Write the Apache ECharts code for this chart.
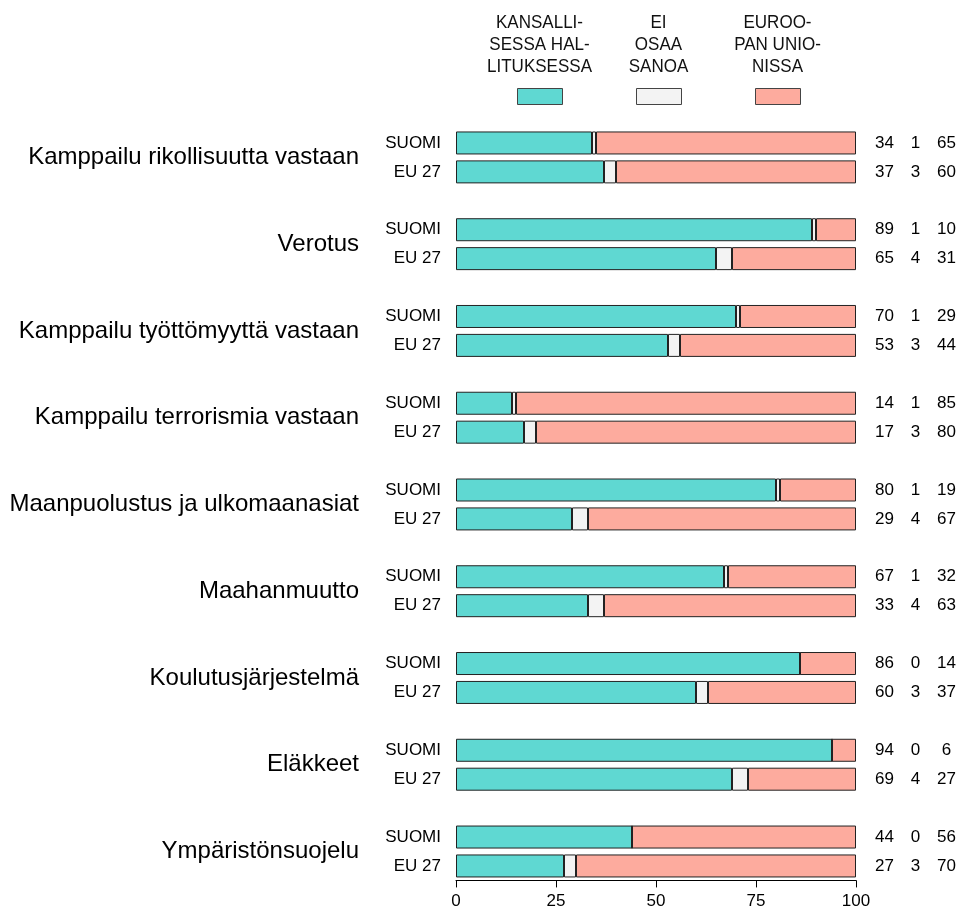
<!DOCTYPE html>
<html>
<head>
<meta charset="utf-8">
<script src="https://cdn.jsdelivr.net/npm/echarts@6/dist/echarts.min.js"></script>
<style>html,body{margin:0;padding:0;background:#fff}#c{width:964px;height:911px}</style>
</head>
<body>
<div id="c"></div>
<script>
// ---- data ----
const topics = [
  'Kamppailu rikollisuutta vastaan',
  'Verotus',
  'Kamppailu työttömyyttä vastaan',
  'Kamppailu terrorismia vastaan',
  'Maanpuolustus ja ulkomaanasiat',
  'Maahanmuutto',
  'Koulutusjärjestelmä',
  'Eläkkeet',
  'Ympäristönsuojelu'
];
const rowLabels = ['SUOMI', 'EU 27'];
const seriesNames = ['KANSALLISESSA HALLITUKSESSA', 'EI OSAA SANOA', 'EUROOPAN UNIONISSA'];
const legendLines = [
  ['KANSALLI-', 'SESSA HAL-', 'LITUKSESSA'],
  ['EI', 'OSAA', 'SANOA'],
  ['EUROO-', 'PAN UNIO-', 'NISSA']
];
const fiKansallinen = [34, 89, 70, 14, 80, 67, 86, 94, 44];
const fiEiOsaa      = [1, 1, 1, 1, 1, 1, 0, 0, 0];
const fiEU          = [65, 10, 29, 85, 19, 32, 14, 6, 56];
const euKansallinen = [37, 65, 53, 17, 29, 33, 60, 69, 27];
const euEiOsaa      = [3, 4, 3, 3, 4, 4, 3, 4, 3];
const euEU          = [60, 31, 44, 80, 67, 63, 37, 27, 70];
const xMin = 0, xMax = 100, xInterval = 25;

// ---- build slots (SUOMI, EU 27, gap) ----
const slotIds = [], slotLabels = [], s1 = [], s2 = [], s3 = [];
topics.forEach((t, i) => {
  slotIds.push('fi' + i); slotLabels.push(rowLabels[0]);
  s1.push(fiKansallinen[i]); s2.push(fiEiOsaa[i]); s3.push(fiEU[i]);
  slotIds.push('eu' + i); slotLabels.push(rowLabels[1]);
  s1.push(euKansallinen[i]); s2.push(euEiOsaa[i]); s3.push(euEU[i]);
  if (i < topics.length - 1) {
    slotIds.push('gap' + i); slotLabels.push('');
    s1.push('-'); s2.push('-'); s3.push('-');
  }
});

const FONT = 'Liberation Sans, Arial, sans-serif';
const colors = ['#5fd8d2', '#f3f3f3', '#fdab9e'];
const borderColor = '#222';

const chart = echarts.init(document.getElementById('c'), null, {renderer: 'canvas'});

const slotH = 28.92;
const gridTop = 128.5;
const gridH = slotH * slotIds.length;

const legendX = [517, 636, 755];
const legendCenters = legendX.map(x => x + 22.5);

const graphics = [];
legendLines.forEach((lines, k) => {
  graphics.push({
    type: 'text',
    x: legendCenters[k],
    y: 45,
    scaleX: 0.92,
    silent: true,
    style: {
      text: lines.join('\n'),
      font: '18.5px ' + FONT,
      fill: '#111',
      textAlign: 'center',
      textVerticalAlign: 'middle',
      lineHeight: 21.7
    }
  });
});

const firstCenter = gridTop + slotH / 2;
const groupCenter0 = firstCenter + slotH / 2;

const option = {
  animation: false,
  backgroundColor: '#fff',
  textStyle: {fontFamily: FONT},
  legend: seriesNames.map((n, k) => ({
    data: [n],
    left: legendX[k],
    top: 88,
    itemWidth: 45,
    itemHeight: 16,
    icon: 'rect',
    selectedMode: false,
    formatter: () => '',
    textStyle: {fontSize: 1},
    padding: 0,
    itemStyle: {borderColor: '#444', borderWidth: 1}
  })),
  graphic: graphics,
  grid: [
    {left: 456, width: 400, top: gridTop, height: gridH},
    {left: 456, width: 400, top: groupCenter0 - slotH * 1.5, height: slotH * 3 * topics.length}
  ],
  xAxis: [
    {
      gridIndex: 0, type: 'value', min: xMin, max: xMax, interval: xInterval,
      axisLine: {show: true, lineStyle: {color: '#000', width: 1}},
      axisTick: {show: true, length: 7, lineStyle: {color: '#000'}},
      axisLabel: {fontSize: 17, color: '#000', margin: 12, fontFamily: FONT},
      splitLine: {show: false}
    },
    {gridIndex: 1, type: 'value', min: 0, max: 1, show: false}
  ],
  yAxis: [
    {
      gridIndex: 0, type: 'category', data: slotIds, inverse: true,
      axisLine: {show: false}, axisTick: {show: false},
      axisLabel: {
        fontSize: 17, color: '#000', margin: 15, fontFamily: FONT,
        formatter: (v, idx) => slotLabels[idx]
      }
    },
    {
      gridIndex: 0, type: 'category', data: slotIds, inverse: true, position: 'right',
      axisLine: {show: false}, axisTick: {show: false},
      axisLabel: {
        margin: 13, color: '#000', fontSize: 17, fontFamily: FONT,
        formatter: (v, idx) => {
          if (!slotLabels[idx]) return '';
          return '{a|' + s1[idx] + '}{b|' + s2[idx] + '}{c|' + s3[idx] + '}';
        },
        rich: {
          a: {width: 31, align: 'center', fontSize: 17, color: '#000', fontFamily: FONT},
          b: {width: 31, align: 'center', fontSize: 17, color: '#000', fontFamily: FONT},
          c: {width: 31, align: 'center', fontSize: 17, color: '#000', fontFamily: FONT}
        }
      }
    },
    {
      gridIndex: 1, type: 'category', data: topics, inverse: true,
      axisLine: {show: false}, axisTick: {show: false},
      axisLabel: {fontSize: 24, color: '#000', margin: 97, fontFamily: FONT}
    }
  ],
  series: [s1, s2, s3].map((d, k) => ({
    name: seriesNames[k],
    type: 'bar',
    stack: 'total',
    xAxisIndex: 0,
    yAxisIndex: 0,
    barWidth: 23,
    data: d,
    itemStyle: {color: colors[k], borderColor: borderColor, borderWidth: 1},
    emphasis: {disabled: true}
  }))
};

chart.setOption(option);
</script>
</body>
</html>
